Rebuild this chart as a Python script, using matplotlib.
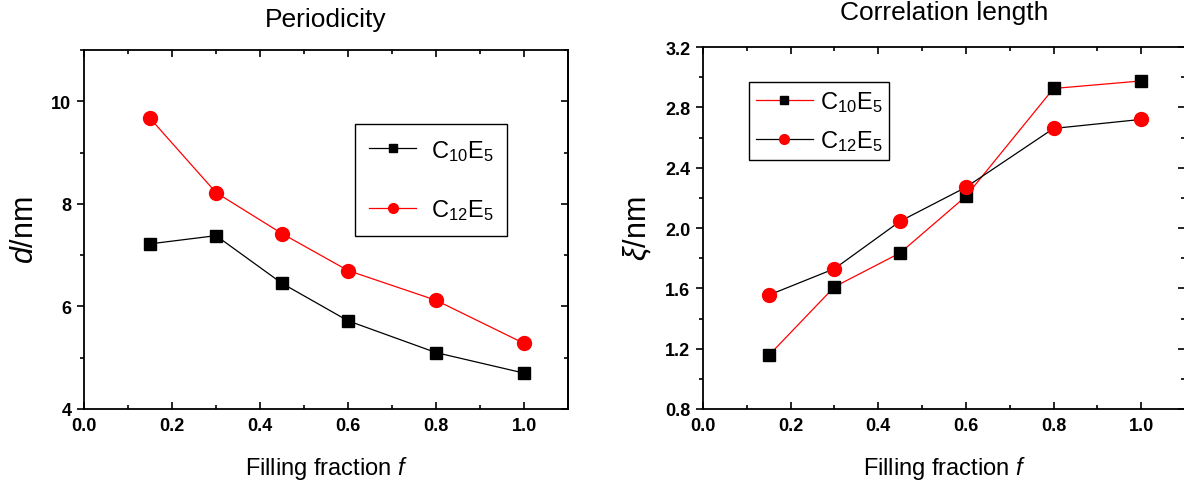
import matplotlib
matplotlib.use("Agg")
import matplotlib.pyplot as plt
from matplotlib.ticker import MultipleLocator

plt.rcParams['font.family'] = ['Liberation Sans', 'DejaVu Sans']
plt.rcParams['mathtext.fontset'] = 'custom'
plt.rcParams['mathtext.rm'] = 'Liberation Sans'
plt.rcParams['mathtext.it'] = 'Liberation Sans:italic'
plt.rcParams['mathtext.bf'] = 'Liberation Sans:bold'

# Data
fill_frac = [0.15, 0.3, 0.45, 0.6, 0.8, 1.0]
period_c10e5 = [7.22, 7.38, 6.45, 5.72, 5.10, 4.70]
period_c12e5 = [9.67, 8.22, 7.42, 6.70, 6.12, 5.28]
corr_c10e5 = [1.155, 1.61, 1.835, 2.21, 2.925, 2.975]
corr_c12e5 = [1.555, 1.73, 2.045, 2.27, 2.66, 2.72]
labels = [r'$\mathregular{C_{10}E_5}$', r'$\mathregular{C_{12}E_5}$']

W, H = 1184, 485
fig = plt.figure(figsize=(W / 100, H / 100), dpi=100)

ax1 = fig.add_axes([84 / W, (H - 410) / H, (568 - 84) / W, (410 - 51) / H])
ax2 = fig.add_axes([703 / W, (H - 410) / H, (1185 - 703) / W, (410 - 48) / H])


def style(ax, ymaj, ymin):
    ax.xaxis.set_major_locator(MultipleLocator(0.2))
    ax.xaxis.set_minor_locator(MultipleLocator(0.1))
    ax.yaxis.set_major_locator(MultipleLocator(ymaj))
    ax.yaxis.set_minor_locator(MultipleLocator(ymin))
    for s in ax.spines.values():
        s.set_linewidth(1.3)
    ax.tick_params(axis='x', which='both', direction='in', top=True, bottom=True, width=1.2)
    ax.tick_params(axis='y', which='both', direction='out', left=True, width=1.2)
    ax.tick_params(which='major', length=5)
    ax.tick_params(which='minor', length=3)
    ax.tick_params(axis='both', labelsize=13, pad=4)
    ax.tick_params(axis='x', pad=6)
    for lab in ax.get_xticklabels() + ax.get_yticklabels():
        lab.set_fontweight('bold')
    # right-side inward ticks
    sec = ax.secondary_yaxis('right')
    sec.yaxis.set_major_locator(MultipleLocator(ymaj))
    sec.yaxis.set_minor_locator(MultipleLocator(ymin))
    sec.tick_params(which='both', direction='in', labelright=False, width=1.2)
    sec.tick_params(which='major', length=5)
    sec.tick_params(which='minor', length=3)
    sec.spines['right'].set_linewidth(1.3)


# Left panel: Periodicity
ax1.plot(fill_frac, period_c10e5, color='black', lw=0.9, marker='s', ms=9,
         mfc='black', mec='black', label=labels[0])
ax1.plot(fill_frac, period_c12e5, color='red', lw=0.9, marker='o', ms=10,
         mfc='red', mec='red', label=labels[1])
ax1.set_xlim(0, 1.1)
ax1.set_ylim(4, 11)
style(ax1, 2, 1)
ax1.set_title('Periodicity', fontsize=19, pad=17)
ax1.set_xlabel(r'Filling fraction $f$', fontsize=17, labelpad=14)
ax1.set_ylabel(r'$d$/nm', fontsize=22, labelpad=8)
leg1 = ax1.legend(loc='upper left', bbox_to_anchor=(0.56, 0.795), borderaxespad=0,
                  fontsize=17, markerscale=0.7, frameon=True, fancybox=False,
                  edgecolor='black', framealpha=1, borderpad=0.6,
                  labelspacing=1.45, handlelength=2.0, handletextpad=0.6)
leg1.get_frame().set_linewidth(1.0)

# Right panel: Correlation length
ax2.plot(fill_frac, corr_c10e5, color='red', lw=0.9, marker='s', ms=9,
         mfc='black', mec='black', label=labels[0])
ax2.plot(fill_frac, corr_c12e5, color='black', lw=0.9, marker='o', ms=10,
         mfc='red', mec='red', label=labels[1])
ax2.set_xlim(0, 1.1)
ax2.set_ylim(0.8, 3.2)
style(ax2, 0.4, 0.2)
ax2.set_title('Correlation length', fontsize=19, pad=20)
ax2.set_xlabel(r'Filling fraction $f$', fontsize=17, labelpad=14)
ax2.set_ylabel(r'$\xi$/nm', fontsize=22, labelpad=8)
leg2 = ax2.legend(loc='upper left', bbox_to_anchor=(0.095, 0.904), borderaxespad=0,
                  fontsize=17, markerscale=0.7, frameon=True, fancybox=False,
                  edgecolor='black', framealpha=1, borderpad=0.3,
                  labelspacing=0.6, handlelength=2.4, handletextpad=0.3)
leg2.get_frame().set_linewidth(1.0)

fig.savefig('out.png', dpi=100)
